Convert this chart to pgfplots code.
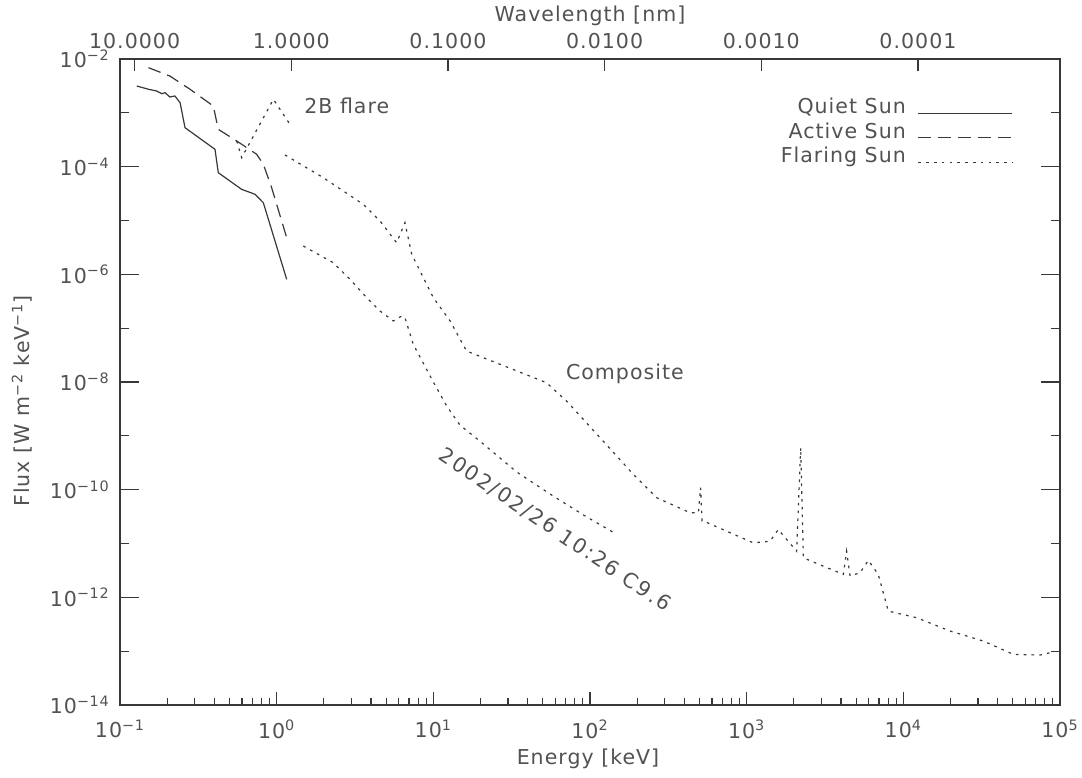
\documentclass[border=0pt]{standalone}
\usepackage{fontspec}
\setmainfont{DejaVu Sans}[LetterSpace=5]
\usepackage{pgfplots}
\pgfplotsset{compat=1.18}
\definecolor{ink}{gray}{0.22}
\definecolor{txt}{gray}{0.32}
\begin{document}
\fontsize{10.3}{12.4}\selectfont%
\begin{tikzpicture}
% main axis: data, bottom energy ticks
\begin{axis}[scale only axis, width=470bp, height=323bp, at={(0,0)}, anchor=south west,
  xmode=log, ymode=log, xmin=0.1, xmax=1e5, ymin=1e-14, ymax=1e-2,
  axis line style={ink, line width=0.6bp}, tick style={ink, line width=0.6bp},
  tick label style={text=txt},
  xtick={0.1,1,10,100,1000,10000,100000},
  xticklabels={10\textsuperscript{−1},10\textsuperscript{0},10\textsuperscript{1},10\textsuperscript{2},10\textsuperscript{3},10\textsuperscript{4},10\textsuperscript{5}},
  minor xtick={0.2,0.3,0.4,0.5,0.6,0.7,0.8,0.9,2,3,4,5,6,7,8,9,20,30,40,50,60,70,80,90,200,300,400,500,600,700,800,900,2000,3000,4000,5000,6000,7000,8000,9000,20000,30000,40000,50000,60000,70000,80000,90000},
  xtick pos=left, ytick=\empty,
  major tick length=6.5bp, minor tick length=3.5bp,
  xticklabel style={yshift=-4bp},
  legend cell align=right, legend plot pos=right,
  legend image code/.code={\draw[#1] (0bp,-3bp) -- (47bp,-3bp);},
  legend style={at={(0.95,0.946)}, anchor=north east, draw=none, fill=none,
    inner sep=0pt, outer sep=0pt, row sep=-1bp, column sep=4bp, text=txt},
]
\addplot[ink, line width=0.6bp] coordinates {
(0.128,3.15e-3) (0.152,2.74e-3) (0.171,2.55e-3) (0.185,2.27e-3) (0.194,2.37e-3)
(0.208,1.97e-3) (0.224,2.06e-3) (0.242,1.54e-3) (0.260,5.30e-4) (0.404,2.10e-4)
(0.424,7.73e-5) (0.598,3.79e-5) (0.728,3.07e-5) (0.822,2.14e-5) (1.159,8.07e-7)
};
\addlegendentry{Quiet Sun}
\addplot[ink, line width=0.6bp, dash pattern=on 6.5bp off 3.5bp] coordinates {
(0.152,6.90e-3) (0.208,4.83e-3) (0.280,2.74e-3) (0.394,1.34e-3) (0.424,4.94e-4)
(0.556,3.00e-4) (0.745,1.70e-4) (0.822,1.11e-4) (0.929,4.07e-5) (1.159,4.79e-6)
};
\addlegendentry{Active Sun}
\addplot[ink, line width=0.6bp, dash pattern=on 1.3bp off 2.6bp] coordinates {
(0.556,3.00e-4) (0.598,1.47e-4) (0.953,1.78e-3) (1.216,6.12e-4)
};
\addlegendentry{Flaring Sun}
% composite
\addplot[ink, line width=0.6bp, dash pattern=on 1.3bp off 2.6bp, forget plot] coordinates {
(1.130,1.65e-4) (1.986,6.24e-5) (3.57,2.00e-5) (4.57,9.80e-6) (5.83,3.87e-6)
(6.59,9.10e-6) (7.28,2.36e-6) (10.0,3.68e-7) (12.8,1.36e-7) (16.3,3.76e-8)
(26.7,2.13e-8) (52.8,9.70e-9) (71.0,4.4e-9) (116,9.23e-10) (189,1.93e-10)
(267,7.08e-11) (435,3.73e-11) (492,3.72e-11) (508,1.09e-10) (519,2.63e-11)
(528,2.63e-11) (1101,1.03e-11) (1409,1.10e-11) (1592,1.82e-11) (2084,7.19e-12)
(2213,6.03e-10) (2301,5.41e-12) (4140,2.67e-12) (4345,7.24e-12) (4571,2.49e-12)
(5284,2.86e-12) (5984,4.86e-12) (6918,2.67e-12) (8017,5.56e-13) (12170,4.18e-13)
(19860,2.37e-13) (32430,1.54e-13) (50360,8.73e-14) (74470,8.47e-14) (86300,9.35e-14)
};
% 2002/02/26 C9.6 flare
\addplot[ink, line width=0.6bp, dash pattern=on 1.3bp off 2.6bp, forget plot] coordinates {
(1.479,3.36e-6) (2.30,1.64e-6) (2.94,8.07e-7) (3.76,3.68e-7) (4.57,2.08e-7)
(5.56,1.36e-7) (6.28,1.68e-7) (6.59,1.57e-7) (7.45,5.0e-8) (10.0,1.0e-8)
(12.2,3.55e-9) (14.8,1.58e-9) (19.9,7.9e-10) (34.0,2.14e-10) (55.6,8.3e-11)
(90.6,3.4e-11) (148,1.48e-11)
};
\node[text=txt, anchor=west] at (axis cs:1.35,1.34e-3) {2B flare};
\node[text=txt] at (axis cs:167,1.40e-8) {Composite};
\node[text=txt, rotate=-34] at (axis cs:59.8,1.78e-11) {\addfontfeatures{LetterSpace=10}2002/02/26 10:26 C9.6};
\end{axis}
% y ticks axis
\begin{axis}[scale only axis, width=470bp, height=323bp, at={(0,0)}, anchor=south west,
  xmode=log, ymode=log, xmin=0.1, xmax=1e5, ymin=1e-14, ymax=1e-2,
  axis line style={ink, line width=0.6bp}, tick style={ink, line width=0.6bp},
  tick label style={text=txt},
  hide x axis,
  ytick={1e-14,1e-12,1e-10,1e-8,1e-6,1e-4,1e-2},
  yticklabels={10\textsuperscript{−14},10\textsuperscript{−12},10\textsuperscript{−10},10\textsuperscript{−8},10\textsuperscript{−6},10\textsuperscript{−4},10\textsuperscript{−2}},
  minor ytick={1e-13,1e-11,1e-9,1e-7,1e-5,1e-3},
  ytick pos=both, yticklabel pos=left,
  major tick length=9.5bp, minor tick length=4.7bp,
  yticklabel style={xshift=-1.5bp},
]
\end{axis}
% top wavelength axis (lambda = 1.2398/E)
\begin{axis}[scale only axis, width=470bp, height=323bp, at={(0,0)}, anchor=south west,
  xmode=log, x dir=reverse, xmin=1.2398e-5, xmax=12.398, ymin=0, ymax=1,
  hide y axis, xtick pos=right, xticklabel pos=right,
  axis line style={ink, line width=0.6bp}, tick style={ink, line width=0.6bp},
  tick label style={text=txt},
  xtick={10,1,0.1,0.01,0.001,0.0001},
  xticklabels={10.0000,1.0000,0.1000,0.0100,0.0010,0.0001},
  major tick length=6bp, minor tick length=0pt,
  xticklabel style={yshift=1.6bp},
]
\end{axis}
\node[text=txt] at (234bp,-27bp) {Energy [keV]};
\node[text=txt, rotate=90] at (-49bp,152bp) {Flux [W m\textsuperscript{−2} keV\textsuperscript{−1}]};
\node[text=txt] at (235bp,344.5bp) {Wavelength [nm]};
\pgfresetboundingbox
\path (-60bp,-36.5bp) rectangle (481bp,352.5bp);
\end{tikzpicture}%
\end{document}
